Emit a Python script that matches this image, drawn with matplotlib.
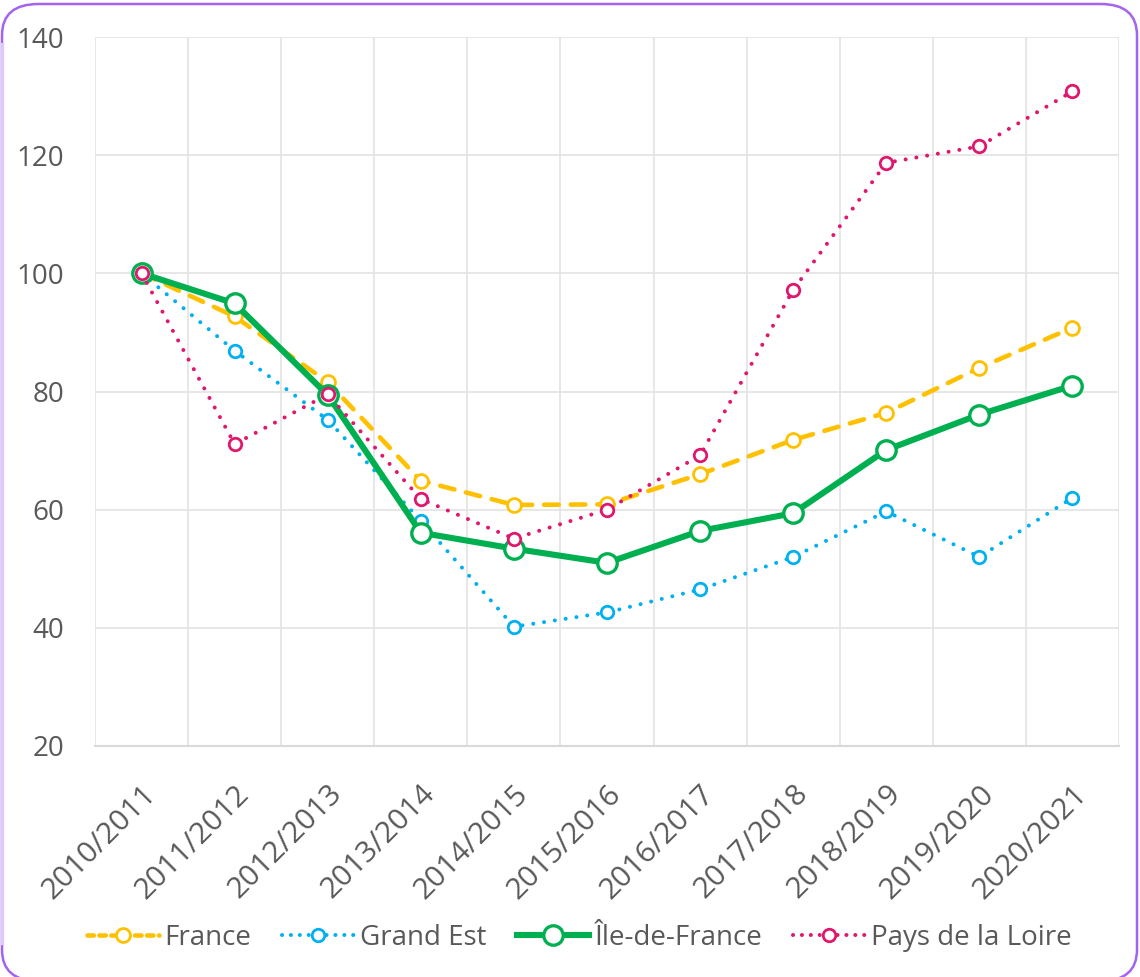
import matplotlib.pyplot as plt
from matplotlib.patches import FancyBboxPatch
from matplotlib.lines import Line2D

plt.rcParams['font.family'] = ['Open Sans', 'DejaVu Sans']

## Data: index 100 = 2010/2011
seasons = ['2010/2011', '2011/2012', '2012/2013', '2013/2014', '2014/2015', '2015/2016',
           '2016/2017', '2017/2018', '2018/2019', '2019/2020', '2020/2021']
france = [100, 92.7, 81.6, 64.9, 60.8, 60.9, 66.0, 71.8, 76.4, 84.0, 90.8]
grand_est = [100, 86.9, 75.2, 58.1, 40.2, 42.6, 46.5, 52.0, 59.7, 52.0, 62.0]
ile_de_france = [100, 94.9, 79.4, 56.1, 53.4, 51.0, 56.4, 59.4, 70.1, 76.1, 81.0]
pays_de_la_loire = [100, 71.1, 79.5, 61.8, 55.1, 60.0, 69.2, 97.2, 118.7, 121.5, 130.8]

text_col = '#595959'
grid_col = '#E3E3E3'

fig = plt.figure(figsize=[11.4, 9.77], dpi=100)
ax = fig.add_axes([95/1140, 1-746/977, (1119-95)/1140, (746-37)/977])

x = list(range(len(seasons)))

ax.plot(x, france, color='#FFC000', lw=3.3, dashes=(3.2, 2.6), dash_capstyle='round',
        marker='o', ms=10, mfc='white', mew=2.0, zorder=3, label='France')
ax.plot(x, grand_est, color='#00B0F0', lw=2.9, dashes=(0.01, 2.7), dash_capstyle='round',
        marker='o', ms=9, mfc='white', mew=2.0, zorder=4, label='Grand Est')
ax.plot(x, ile_de_france, color='#00B050', lw=4.4, solid_capstyle='round',
        marker='o', ms=14, mfc='white', mew=2.4, zorder=5, label='Île-de-France')
ax.plot(x, pays_de_la_loire, color='#E0176C', lw=2.9, dashes=(0.01, 2.7), dash_capstyle='round',
        marker='o', ms=9, mfc='white', mew=2.0, zorder=6, label='Pays de la Loire')

ax.set_xlim(-0.5, len(seasons)-0.5)
ax.set_ylim(20, 140)
ax.set_yticks(range(20, 141, 20))
ax.set_xticks(x)
ax.set_xticklabels(seasons, rotation=45, ha='right', va='top', rotation_mode='anchor')

# vertical gridlines sit between categories
for b in range(len(seasons)+1):
    ax.axvline(b-0.5, color=grid_col, lw=1.2, zorder=0)
ax.yaxis.grid(True, color=grid_col, lw=1.2, zorder=0)
ax.set_axisbelow(True)

for side in ['top', 'right', 'left']:
    ax.spines[side].set_visible(False)
ax.spines['bottom'].set_color('#D9D9D9')
ax.spines['bottom'].set_linewidth(1.5)

ax.tick_params(axis='both', length=0, labelsize=20, labelcolor=text_col)
ax.tick_params(axis='x', labelsize=21.5, pad=24)
ax.tick_params(axis='y', pad=22)

handles = [
    Line2D([], [], color='#FFC000', lw=3.3, dashes=(1.4, 1.2), dash_capstyle='round',
           marker='o', ms=10, mfc='white', mew=2.0),
    Line2D([], [], color='#00B0F0', lw=2.9, dashes=(0.01, 2.2), dash_capstyle='round',
           marker='o', ms=9, mfc='white', mew=2.0),
    Line2D([], [], color='#00B050', lw=4.4, marker='o', ms=14, mfc='white', mew=2.4),
    Line2D([], [], color='#E0176C', lw=2.9, dashes=(0.01, 2.2), dash_capstyle='round',
           marker='o', ms=9, mfc='white', mew=2.0),
]
leg = fig.legend(handles, ['France', 'Grand Est', 'Île-de-France', 'Pays de la Loire'],
                 loc='center', bbox_to_anchor=(0.508, 0.04), ncol=4, frameon=False,
                 fontsize=20, handlelength=2.6, handletextpad=0.2, columnspacing=1.1)
for t in leg.get_texts():
    t.set_color(text_col)

# rounded purple frame round the chart
frame = FancyBboxPatch((2/1140, -4/977), 1135/1140, 977/977,
                       boxstyle='round,pad=0,rounding_size=0.032', transform=fig.transFigure,
                       facecolor='none', edgecolor='#A462F0', lw=1.8, clip_on=False)
fig.patches.append(frame)
fig.add_artist(Line2D([2/1140, 2/1140], [0.035, 0.955], transform=fig.transFigure,
                      color='#DCC8FA', lw=2.4))

fig.savefig('out.png', dpi=100, facecolor='white')
